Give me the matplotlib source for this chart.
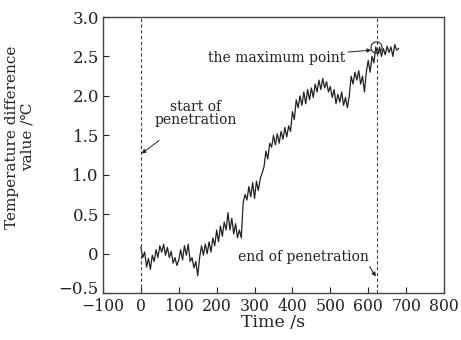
import matplotlib
matplotlib.use("Agg")
import matplotlib.pyplot as plt
from matplotlib.transforms import ScaledTranslation

# Temperature difference recorded every 5 s during penetration
time_s = list(range(0, 685, 5))
temp_diff = [
    0.08, -0.05, 0.02, -0.17, -0.06, -0.20, -0.02, -0.10, 0.05, -0.05,
    0.10, 0.02, 0.12, -0.02, 0.08, -0.05, 0.03, -0.12, -0.05, -0.15,
    -0.08, 0.05, -0.08, 0.10, -0.02, 0.12, -0.10, -0.05, -0.18, -0.10,
    -0.28, -0.05, 0.10, -0.02, 0.12, 0.00, 0.15, 0.02, 0.20, 0.10,
    0.30, 0.15, 0.35, 0.22, 0.40, 0.30, 0.52, 0.30, 0.45, 0.25,
    0.38, 0.20, 0.30, 0.20, 0.65, 0.75, 0.68, 0.85, 0.72, 0.90,
    0.70, 0.92, 0.80, 0.95, 1.02, 1.10, 1.30, 1.20, 1.40, 1.35,
    1.50, 1.38, 1.52, 1.40, 1.55, 1.45, 1.60, 1.48, 1.62, 1.55,
    1.80, 1.70, 1.95, 1.85, 2.00, 1.88, 2.05, 1.90, 2.08, 1.95,
    2.10, 1.98, 2.15, 2.05, 2.20, 2.08, 2.22, 2.10, 2.18, 2.05,
    2.12, 1.98, 2.08, 1.90, 2.02, 1.92, 2.05, 1.88, 1.98, 1.85,
    2.00, 2.25, 2.15, 2.30, 2.20, 2.32, 2.15, 2.25, 2.05, 2.30,
    2.45, 2.30, 2.50, 2.42, 2.62, 2.52, 2.62, 2.50, 2.60, 2.52,
    2.63, 2.55, 2.62, 2.50, 2.65, 2.58, 2.60,
]

start_time = 0
end_time = 623
max_time = 620
max_value = 2.62

x_ticks = [-100, 0, 100, 200, 300, 400, 500, 600, 700, 800]
y_ticks = [-0.5, 0, 0.5, 1.0, 1.5, 2.0, 2.5, 3.0]
y_tick_labels = ["\u22120.5", "0", "0.5", "1.0", "1.5", "2.0", "2.5", "3.0"]
x_tick_labels = ["\u2212100"] + [str(v) for v in x_ticks[1:]]

plt.rcParams["font.family"] = ["DejaVu Serif"]

fig = plt.figure(figsize=(4.61, 3.40), dpi=100)
ax = fig.add_axes([0.2234, 0.138, 0.7397, 0.812])

ax.plot(time_s, temp_diff, color="#222222", lw=0.9)

dash = dict(color="#444444", lw=0.8, ls=(0, (3, 2.2)))
ax.axvline(start_time, **dash)
ax.axvline(end_time, **dash)

ax.plot([max_time], [max_value], marker="o", ms=8, mfc="none",
        mec="#222222", mew=0.8)

txt = dict(fontsize=10, color="#222222")
ax.annotate("start of\npenetration", xy=(2, 1.27), xytext=(145, 1.78),
            ha="center", va="center", linespacing=0.95,
            arrowprops=dict(arrowstyle="-|>", color="#222222", lw=0.7,
                            mutation_scale=6, shrinkA=13, shrinkB=0), **txt)
ax.annotate("the maximum point", xy=(max_time - 12, 2.58), xytext=(358, 2.48),
            ha="center", va="center",
            arrowprops=dict(arrowstyle="-|>", color="#222222", lw=0.7,
                            mutation_scale=6, shrinkA=62, shrinkB=0), **txt)
ax.annotate("end of penetration", xy=(end_time - 3, -0.29), xytext=(430, -0.04),
            ha="center", va="center",
            arrowprops=dict(arrowstyle="-|>", color="#222222", lw=0.7,
                            mutation_scale=6, shrinkA=0, shrinkB=0,
                            relpos=(0.99, 0.0)), **txt)

ax.set_xlim(-100, 800)
ax.set_ylim(-0.5, 3.0)
ax.set_xticks(x_ticks)
ax.set_xticklabels(x_tick_labels)
ax.set_yticks(y_ticks)
ax.set_yticklabels(y_tick_labels)
ax.tick_params(direction="in", length=4, width=0.8, labelsize=12,
               colors="#222222", pad=3)
ax.tick_params(axis="x", pad=3.5, labelsize=11.3)

# lift the lowest y label a little so it clears the x labels
low = ax.get_yticklabels()[0]
low.set_transform(low.get_transform()
                  + ScaledTranslation(0, 4 / 72, fig.dpi_scale_trans))

for s in ax.spines.values():
    s.set_color("#444444")
    s.set_linewidth(1.0)

ax.set_xlabel("Time /s", fontsize=12.5, color="#222222", labelpad=-1)
ax.set_ylabel("Temperature difference\nvalue /\u2103", fontsize=11,
              color="#222222", linespacing=1.15)
ax.yaxis.set_label_coords(-0.2, 0.565)

fig.savefig("out.png", dpi=100)
